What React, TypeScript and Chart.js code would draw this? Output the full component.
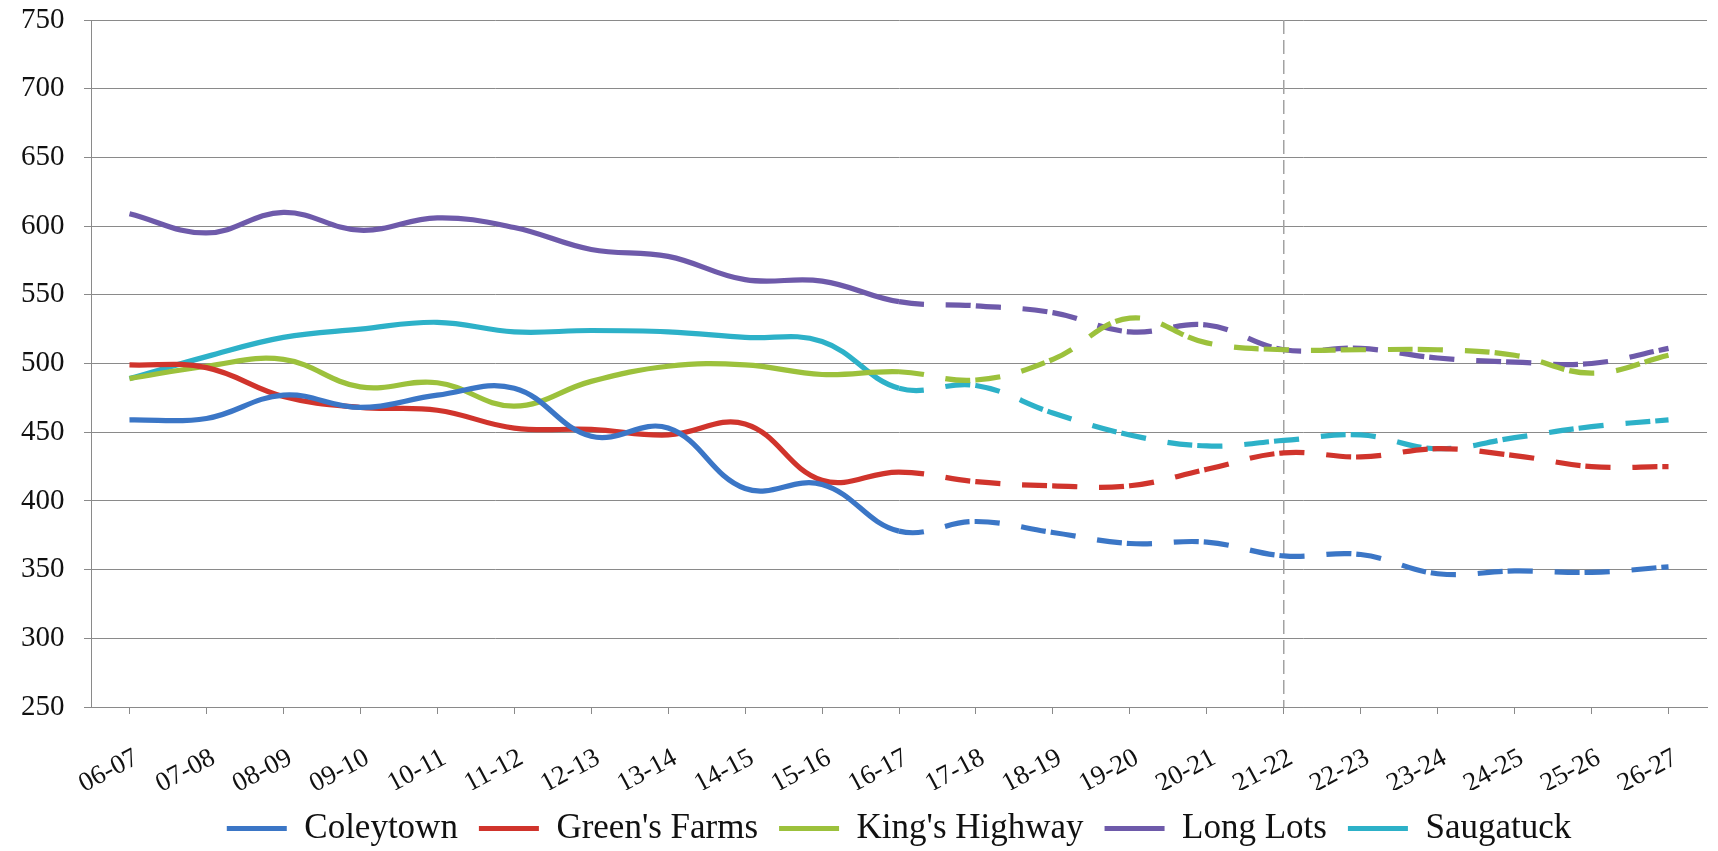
import React, { useEffect, useRef } from "react";
import { Chart, registerables } from "chart.js";

Chart.register(...registerables);

const categories = [
  "06-07", "07-08", "08-09", "09-10", "10-11", "11-12", "12-13", "13-14", "14-15", "15-16", "16-17",
  "17-18", "18-19", "19-20", "20-21", "21-22", "22-23", "23-24", "24-25", "25-26", "26-27",
];

const coleytown = [459, 460, 477, 468, 477, 482, 447, 453, 409, 412, 378, 385, 377, 369, 370, 360, 361, 347, 349, 348, 352];
const greensFarms = [499, 497, 476, 468, 466, 453, 452, 448, 456, 415, 421, 414, 411, 411, 423, 435, 432, 438, 433, 425, 425];
const kingsHighway = [489, 498, 503, 483, 486, 469, 487, 498, 499, 492, 494, 488, 503, 533, 515, 510, 510, 510, 506, 493, 506];
const longLots = [609, 595, 610, 597, 606, 599, 583, 578, 561, 560, 545, 542, 537, 523, 528, 510, 511, 504, 501, 500, 511];
const saugatuck = [489, 505, 519, 525, 530, 523, 524, 523, 519, 516, 482, 484, 464, 448, 440, 444, 448, 438, 446, 454, 459];

const seriesNames = ["Coleytown", "Green's Farms", "King's Highway", "Long Lots", "Saugatuck"];
const seriesColors = ["#3b76c6", "#d0342c", "#9cc13c", "#6e5aaa", "#2db1c8"];

const lastActualIndex = 10; // 16-17: projections begin after this
const markerLabel = "21-22";

const yMin = 250;
const yMax = 750;
const yStep = 50;

const serif = "'Liberation Serif', 'Times New Roman', serif";

export default function App() {
  const canvasRef = useRef<HTMLCanvasElement | null>(null);

  useEffect(() => {
    const canvas = canvasRef.current;
    if (!canvas) return;

    const values = [coleytown, greensFarms, kingsHighway, longLots, saugatuck];

    const markerPlugin = {
      id: "markerLine",
      beforeDatasetsDraw(chart: any) {
        const { ctx, chartArea, scales } = chart;
        const x = scales.x.getPixelForValue(categories.indexOf(markerLabel));
        ctx.save();
        ctx.strokeStyle = "#a3a3a3";
        ctx.lineWidth = 1.5;
        ctx.setLineDash([14, 6]);
        ctx.beginPath();
        ctx.moveTo(x, chartArea.top);
        ctx.lineTo(x, chartArea.bottom);
        ctx.stroke();
        ctx.restore();
      },
    };

    const chart = new Chart(canvas, {
      type: "line",
      data: {
        labels: categories,
        datasets: values.map((v, i) => ({
          label: seriesNames[i],
          data: v,
          borderColor: seriesColors[i],
          backgroundColor: seriesColors[i],
          borderWidth: 5.2,
          pointRadius: 0,
          pointHoverRadius: 0,
          tension: 0.4,
          fill: false,
          segment: {
            borderDash: (ctx: any) => (ctx.p0DataIndex >= lastActualIndex ? [25, 22, 25, 5] : undefined),
          },
        })),
      },
      options: {
        responsive: false,
        animation: false,
        layout: { padding: { top: 20, right: 11, left: 21, bottom: 0 } },
        plugins: {
          title: { display: false },
          tooltip: { enabled: false },
          legend: {
            display: true,
            position: "bottom",
            fullSize: false,
            labels: {
              boxWidth: 60,
              boxHeight: 5,
              padding: 21,
              color: "#111",
              font: { family: serif, size: 35 },
              generateLabels: (c: any) =>
                (Chart.defaults.plugins.legend.labels.generateLabels as any)(c).map((l: any) => ({
                  ...l,
                  lineWidth: 0,
                })),
            },
          },
        },
        scales: {
          x: {
            type: "category",
            offset: true,
            grid: {
              display: true,
              drawOnChartArea: false,
              drawTicks: true,
              tickLength: 7,
              color: "#8a8a8a",
              offset: false,
            },
            border: { display: true, color: "#8a8a8a" },
            ticks: {
              autoSkip: false,
              minRotation: 28,
              maxRotation: 28,
              padding: 28,
              labelOffset: 7,
              color: "#111",
              font: { family: serif, size: 27 },
            },
            afterFit: (s: any) => {
              s.height = 83;
            },
          },
          y: {
            min: yMin,
            max: yMax,
            ticks: {
              stepSize: yStep,
              padding: 2,
              crossAlign: "far",
              color: "#111",
              font: { family: serif, size: 29 },
            },
            grid: { color: "#8a8a8a", lineWidth: 1, tickLength: 7 },
            border: { display: true, color: "#8a8a8a" },
            afterFit: (s: any) => {
              s.width = 70;
            },
          },
        },
      },
      plugins: [markerPlugin],
    } as any);

    return () => chart.destroy();
  }, []);

  return (
    <div style={{ position: "fixed", left: 0, top: 0, width: 1718, height: 851, background: "#fff", overflow: "hidden" }}>
      <canvas ref={canvasRef} width={1718} height={856} style={{ display: "block" }} />
    </div>
  );
}
